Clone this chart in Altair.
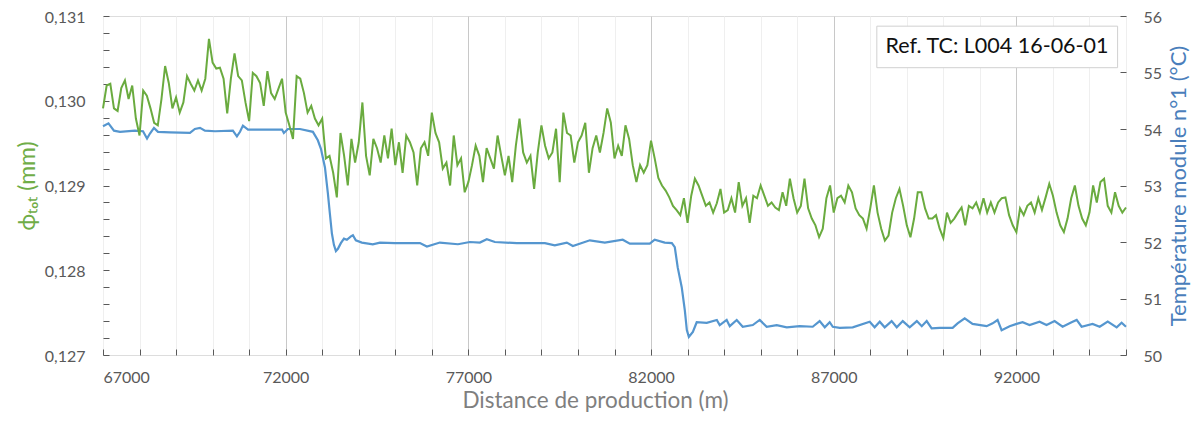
import altair as alt
import pandas as pd

# ---------------- data ----------------
dist_start = 67000
dist_step = 100
# phi_tot in micrometres (converted to mm below), one value every 100 m
phi_tot_um = [
    129.91, 130.18, 130.20, 129.91, 129.88, 130.15, 130.24, 130.02, 130.18, 129.79,
    129.59, 130.12, 130.06, 129.91, 129.74, 129.71, 130.02, 130.41, 130.21, 129.91,
    130.04, 129.86, 129.98, 130.29, 130.20, 130.12, 130.24, 130.12, 130.26, 130.73,
    130.45, 130.38, 130.39, 130.26, 129.85, 130.26, 130.56, 130.29, 130.24, 129.98,
    129.76, 130.33, 130.29, 130.21, 129.94, 130.35, 130.09,
    130.02, 130.14, 130.26, 129.86, 129.71, 129.55, 130.29, 130.26, 130.09, 129.86,
    129.94, 129.79, 129.71, 129.79, 129.32, 129.35, 129.15, 128.86, 129.62, 129.35,
    129.00, 129.55, 129.27, 129.51, 129.98, 129.35, 129.12, 129.55, 129.44, 129.27,
    129.59, 129.32, 129.67, 129.24, 129.51, 129.15, 129.59, 129.51, 129.39, 129.00,
    129.44, 129.51, 129.35, 129.86, 129.62, 129.51, 129.20,
    129.27, 129.00, 129.59, 129.24, 129.32, 128.92, 129.04, 129.24, 129.47, 129.35,
    129.04, 129.44, 129.32, 129.20, 129.59, 129.35, 129.12, 129.35, 129.04, 129.47,
    129.79, 129.39, 129.27, 129.35, 128.96, 129.39, 129.71, 129.47, 129.32, 129.39,
    129.67, 129.04, 129.86, 129.62, 129.59, 129.27, 129.51, 129.59, 129.74, 129.15,
    129.44, 129.59, 129.39, 129.62, 129.91, 129.74, 129.32,
    129.47, 129.35, 129.71, 129.55, 129.24, 129.04, 129.24, 129.15, 129.24, 129.53,
    129.32, 129.09, 129.00, 128.94, 128.86, 128.76, 128.71, 128.65, 128.85, 128.56,
    128.88, 129.08, 129.00, 128.88, 128.76, 128.80, 128.68, 128.79, 128.96, 128.68,
    128.71, 128.85, 128.68, 129.04, 128.76, 128.85, 128.56, 128.88, 128.85, 129.00,
    128.88, 128.76, 128.80, 128.74, 128.71, 128.92, 128.76,
    129.08, 128.85, 128.68, 128.76, 129.08, 128.73, 128.61, 128.53, 128.39, 128.49,
    128.85, 129.00, 128.68, 128.85, 128.88, 128.80, 129.00, 128.92, 128.73, 128.65,
    128.61, 128.49, 128.73, 129.00, 128.68, 128.49, 128.35, 128.41, 128.68, 128.85,
    128.96, 128.76, 128.53, 128.39, 128.61, 128.92, 128.92, 128.73, 128.61, 128.61,
    128.65, 128.49, 128.38, 128.68, 128.56, 128.61, 128.68,
    128.74, 128.53, 128.76, 128.73, 128.80, 128.68, 128.85, 128.68, 128.80, 128.68,
    128.80, 128.85, 128.86, 128.65, 128.53, 128.45, 128.73, 128.65, 128.76, 128.80,
    128.68, 128.85, 128.71, 128.86, 129.02, 128.88, 128.68, 128.53, 128.45, 128.61,
    128.85, 129.00, 128.76, 128.61, 128.53, 128.68, 129.00, 128.80, 129.04, 129.08,
    128.76, 128.68, 128.92, 128.76, 128.68, 128.74,
]

temp_dist = [
    67000, 67150, 67300, 67465, 67875, 68095, 68205, 68285, 68395, 68505,
    68835, 69380, 69515, 69655, 69790, 70065, 70555, 70665, 70750, 70830,
    70970, 71295, 71900, 71950, 72060, 72390, 72745, 72880, 72965, 73075,
    73155, 73210, 73265, 73320, 73375, 73430, 73510, 73595, 73675, 73785,
    73840, 73920, 74085, 74385, 74580, 74990, 75675, 75865, 76220, 76715,
    77040, 77315, 77505, 77725, 78325, 79095, 79365, 79695, 79860, 80325,
    80735, 81225, 81420, 81965, 82100, 82375, 82570, 82650, 82730, 82840,
    82925, 82980, 83035, 83145, 83250, 83525, 83800, 83880, 84070, 84155,
    84345, 84510, 84785, 84975, 85165, 85440, 85715, 86070, 86425, 86615,
    86755, 86890, 86975, 87165, 87520, 87985, 88120, 88260, 88395, 88585,
    88725, 88890, 89080, 89275, 89410, 89545, 89680, 89900, 90255, 90390,
    90585, 90800, 91185, 91350, 91485, 91595, 91815, 92005, 92170, 92360,
    92635, 92825, 93045, 93265, 93510, 93650, 93785, 94085, 94280, 94500,
    94745, 94880, 95000,
]
temp_c = [
    54.05, 54.10, 53.97, 53.95, 53.97, 53.96, 53.83, 53.92, 54.02, 53.95,
    53.94, 53.93, 54.00, 54.02, 53.97, 53.96, 53.97, 53.87, 53.95, 54.06,
    53.99, 53.99, 53.99, 53.93, 54.00, 54.00, 53.95, 53.80, 53.65, 53.32,
    52.86, 52.50, 52.15, 51.95, 51.84, 51.88, 51.98, 52.06, 52.04, 52.10,
    52.12, 52.03, 51.99, 51.96, 51.99, 51.98, 51.98, 51.92, 51.99, 51.96,
    52.00, 51.99, 52.05, 52.00, 51.98, 51.98, 51.94, 51.99, 51.93, 52.03,
    51.99, 52.04, 51.97, 51.97, 52.04, 51.99, 51.98, 51.91, 51.55, 51.20,
    50.79, 50.44, 50.32, 50.41, 50.58, 50.57, 50.62, 50.53, 50.62, 50.51,
    50.62, 50.50, 50.53, 50.62, 50.50, 50.53, 50.49, 50.51, 50.50, 50.60,
    50.49, 50.58, 50.50, 50.48, 50.49, 50.59, 50.49, 50.59, 50.49, 50.60,
    50.49, 50.60, 50.49, 50.60, 50.51, 50.60, 50.47, 50.48, 50.48, 50.56,
    50.65, 50.55, 50.51, 50.56, 50.62, 50.44, 50.51, 50.55, 50.58, 50.53,
    50.59, 50.53, 50.60, 50.50, 50.58, 50.62, 50.50, 50.55, 50.50, 50.59,
    50.49, 50.57, 50.50,
]

x_tick_values = [67000, 68000, 69000, 70000, 71000, 72000, 73000, 74000, 75000,
                 76000, 77000, 78000, 79000, 80000, 81000, 82000, 83000, 84000,
                 85000, 86000, 87000, 88000, 89000, 90000, 91000, 92000, 93000,
                 94000, 95000]
phi_tick_values = [0.127, 0.1272, 0.1274, 0.1276, 0.1278, 0.128, 0.1282, 0.1284,
                   0.1286, 0.1288, 0.129, 0.1292, 0.1294, 0.1296, 0.1298, 0.130,
                   0.1302, 0.1304, 0.1306, 0.1308, 0.131]
temp_tick_values = [50, 51, 52, 53, 54, 55, 56]

note_text = ["Ref. TC: L004 16-06-01"]
note_box = {"x0": [88180], "x1": [94770], "y0": [0.13039], "y1": [0.13088]}
note_pos = {"x": [91470], "y": [0.130635]}

# ---------------- tables ----------------
green_df = pd.DataFrame({
    "dist": [dist_start + i * dist_step for i in range(len(phi_tot_um))],
    "phi": [v / 1000 for v in phi_tot_um],
})
temp_df = pd.DataFrame({"dist": temp_dist, "temp": temp_c})
box_df = pd.DataFrame({"dist": note_box["x0"], "dist2": note_box["x1"],
                       "phi": note_box["y0"], "phi2": note_box["y1"]})
text_df = pd.DataFrame({"dist": note_pos["x"], "phi": note_pos["y"], "label": note_text})

FONT = "Lato"
LABEL_COLOR = "#595959"

x_scale = alt.Scale(domain=[67000, 95000], nice=False, zero=False)
x_axis = alt.Axis(
    orient="bottom", values=x_tick_values,
    labelExpr="(datum.value - 67000) % 5000 == 0 ? '' + datum.value : ''",
    title="Distance de production (m)", titleColor="#7f7f7f", titleFontSize=22.5,
    titleFont=FONT, titleFontWeight="normal", titlePadding=4, titleX=492,
    labelFont=FONT, labelFontSize=16, labelColor=LABEL_COLOR, labelPadding=14,
    domain=False, offset=-6, tickSize=6, tickColor=LABEL_COLOR,
    grid=True,
    gridColor={"condition": {"test": "(datum.value - 67000) % 5000 == 0 && datum.value > 67000",
                             "value": "#c8c8c8"}, "value": "#efefef"},
)
x_enc = alt.X("dist:Q", scale=x_scale, axis=x_axis)

phi_scale = alt.Scale(domain=[0.127, 0.131], nice=False, zero=False)
phi_axis = alt.Axis(
    orient="left", values=phi_tick_values,
    labelExpr="abs(datum.value * 1000 - round(datum.value * 1000)) < 0.001 ? "
              "replace(format(datum.value, '.3f'), '.', ',') : ''",
    title="ϕₜₒₜ (mm)", titleColor="#70ad47", titleFontSize=23, titleFont=FONT,
    titleFontWeight="normal", titlePadding=5,
    labelFont=FONT, labelFontSize=16, labelColor=LABEL_COLOR, labelPadding=18,
    labelOffset=1,
    domain=False, offset=-6, tickSize=6, tickColor=LABEL_COLOR, grid=False,
)
temp_scale = alt.Scale(domain=[50, 56], nice=False, zero=False)
temp_axis = alt.Axis(
    orient="right", values=temp_tick_values, format="d",
    title="Température module n°1 (°C)", titleColor="#4a7ebb", titleFontSize=22,
    titleFont=FONT, titleFontWeight="normal", titleAngle=270, titleBaseline="top",
    titlePadding=7,
    labelFont=FONT, labelFontSize=16, labelColor=LABEL_COLOR, labelPadding=17,
    labelOffset=1,
    domain=False, offset=-6, tickSize=6, tickColor=LABEL_COLOR, grid=False,
)

blue = alt.Chart(temp_df).mark_line(color="#5596cf", strokeWidth=2.2).encode(
    x=x_enc, y=alt.Y("temp:Q", scale=temp_scale, axis=temp_axis))

green = alt.Chart(green_df).mark_line(color="#6aab3f", strokeWidth=2).encode(
    x=x_enc, y=alt.Y("phi:Q", scale=phi_scale, axis=phi_axis))
box = alt.Chart(box_df).mark_rect(fill="white", stroke="#d0d0d0", strokeWidth=1).encode(
    x=x_enc, x2="dist2:Q", y=alt.Y("phi:Q", scale=phi_scale, axis=phi_axis), y2="phi2:Q")
note = alt.Chart(text_df).mark_text(font=FONT, fontSize=21.5, color="#111111",
                                    align="center", baseline="middle").encode(
    x=x_enc, y=alt.Y("phi:Q", scale=phi_scale, axis=phi_axis), text="label:N")

left = alt.layer(green, box, note)

chart = alt.layer(blue, left).resolve_scale(y="independent").properties(
    width=1023, height=339,
    autosize=alt.AutoSizeParams(type="none"),
    padding={"left": 95, "top": 8, "right": 67, "bottom": 58},
).configure_view(stroke="#7f7f7f", strokeWidth=1).configure(background="white")

chart.save("out.html", embed_options={"renderer": "svg", "actions": False})
